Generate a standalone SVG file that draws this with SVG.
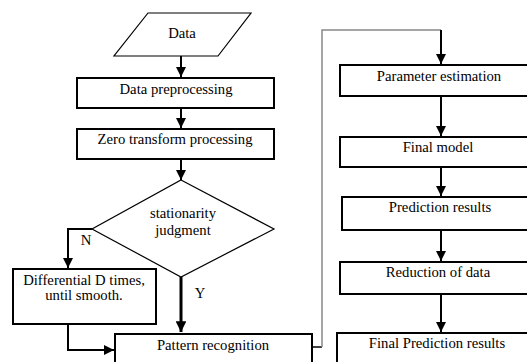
<svg xmlns="http://www.w3.org/2000/svg" width="527" height="362" viewBox="0 0 527 362">
<defs>
<marker id="ah" markerWidth="5" markerHeight="5" refX="5" refY="2.5" orient="auto" markerUnits="strokeWidth">
<path d="M0,0 L5,2.5 L0,5 Z" fill="#000"/>
</marker>
<marker id="ah3" markerWidth="3.6" markerHeight="3.6" refX="3.6" refY="1.8" orient="auto" markerUnits="strokeWidth">
<path d="M0,0 L3.6,1.8 L0,3.6 Z" fill="#000"/>
</marker>
</defs>
<style>
.box{fill:#fff;stroke:#000;stroke-width:2}
.thin{fill:#fff;stroke:#000;stroke-width:1.2}
.t{font-family:"Liberation Serif","Times New Roman",serif;font-size:14.7px;fill:#000;text-anchor:middle}
.c{fill:none;stroke:#000;stroke-width:2}
.g{fill:none;stroke:#888;stroke-width:1.5}
</style>
<rect width="527" height="362" fill="#fff"/>
<g id="connectors">
<line class="c" x1="181" y1="56" x2="181" y2="77" marker-end="url(#ah)"/>
<line class="c" x1="181" y1="108" x2="181" y2="128" marker-end="url(#ah)"/>
<line class="c" x1="181" y1="159" x2="181" y2="180" marker-end="url(#ah)"/>
<polyline class="c" points="92,229 68,229 68,268" marker-end="url(#ah)"/>
<polyline class="c" points="68,324 68,350 114,350" marker-end="url(#ah)"/>
<line class="c" style="stroke-width:3" x1="181" y1="277" x2="181" y2="332" marker-end="url(#ah3)"/>
<polyline class="c" style="stroke-width:1.5" points="312,347 322,347"/>
<polyline class="g" points="322,347 322,30 441,30"/>
<line class="c" x1="441" y1="30" x2="441" y2="64" marker-end="url(#ah)"/>
<line class="c" x1="441" y1="96" x2="441" y2="136" marker-end="url(#ah)"/>
<line class="c" x1="441" y1="167" x2="441" y2="196" marker-end="url(#ah)"/>
<line class="c" x1="441" y1="230" x2="441" y2="261" marker-end="url(#ah)"/>
<line class="c" x1="441" y1="294" x2="441" y2="332" marker-end="url(#ah)"/>
<text class="t" x="86" y="245">N</text>
<text class="t" x="200" y="298">Y</text>
</g>
<g id="data">
<polygon class="thin" points="148,13 251,13 218,56 114,56"/>
<text class="t" x="182" y="38">Data</text>
</g>
<g id="preprocessing">
<rect class="box" x="77" y="78" width="197" height="30"/>
<text class="t" x="176" y="94">Data preprocessing</text>
</g>
<g id="zero">
<rect class="box" x="77" y="129" width="197" height="30"/>
<text class="t" x="175" y="144">Zero transform processing</text>
</g>
<g id="judgment">
<polygon class="thin" points="181,180 274,229 181,277 92,229"/>
<text class="t" x="183" y="218">stationarity</text>
<text class="t" x="183" y="235">judgment</text>
</g>
<g id="differential">
<rect class="box" x="13" y="269" width="143" height="55"/>
<text class="t" x="84" y="285">Differential D times,</text>
<text class="t" x="84" y="300">until smooth.</text>
</g>
<g id="pattern">
<rect class="box" x="115" y="334" width="197" height="40"/>
<text class="t" x="213" y="350">Pattern recognition</text>
</g>
<g id="parameter">
<rect class="box" x="340" y="65" width="205" height="31"/>
<text class="t" x="439" y="81">Parameter estimation</text>
</g>
<g id="finalmodel">
<rect class="box" x="340" y="137" width="205" height="30"/>
<text class="t" x="438" y="152">Final model</text>
</g>
<g id="prediction">
<rect class="box" x="342" y="197" width="205" height="33"/>
<text class="t" x="440" y="212">Prediction results</text>
</g>
<g id="reduction">
<rect class="box" x="340" y="262" width="205" height="32"/>
<text class="t" x="438" y="277">Reduction of data</text>
</g>
<g id="finalprediction">
<rect class="box" x="337" y="333" width="205" height="40"/>
<text class="t" x="437" y="348">Final Prediction results</text>
</g>
</svg>
